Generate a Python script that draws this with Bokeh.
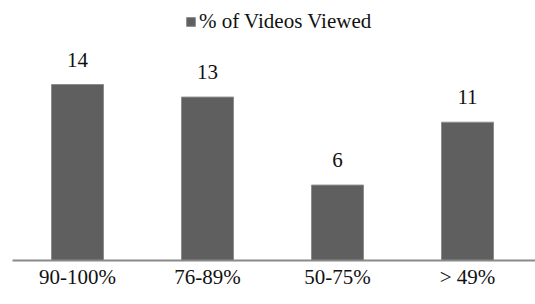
from bokeh.plotting import figure
from bokeh.models import ColumnDataSource, Range1d, FixedTicker, Legend, LegendItem
from bokeh.core.properties import value
from bokeh.embed import file_html
from bokeh.resources import INLINE

categories = ["90-100%", "76-89%", "50-75%", "> 49%"]
views = [14, 13, 6, 11]
series_name = "% of Videos Viewed"

xs = [i + 0.5 for i in range(len(categories))]
src = ColumnDataSource(dict(x=xs, top=views, label=[str(v) for v in views]))

FONT = "'Liberation Serif', serif"
FS = "21px"

p = figure(width=535, height=304, output_backend="svg", toolbar_location=None,
           x_range=Range1d(0, 523 / 130), y_range=Range1d(0, 260 / 12.57),
           y_axis_location=None, min_border_left=12, min_border_right=0,
           min_border_top=0, min_border_bottom=44)
p.outline_line_color = None
p.xgrid.visible = False
p.ygrid.visible = False
p.background_fill_color = "white"

r = p.vbar(x="x", top="top", width=0.4, bottom=0, source=src,
           fill_color="#5f5f5f", line_color="#8c8c8c", line_width=1)

p.text(x="x", y="top", text="label", source=src, text_align="center",
       text_baseline="alphabetic", y_offset=-25, text_font=value(FONT),
       text_font_size=FS, text_color="#111111")

ax = p.xaxis[0]
ax.ticker = FixedTicker(ticks=xs)
ax.major_label_overrides = {x: c for x, c in zip(xs, categories)}
ax.major_tick_line_color = None
ax.minor_tick_line_color = None
ax.axis_line_color = "#898989"
ax.axis_line_width = 2
ax.major_label_standoff = -2
ax.major_label_text_font = FONT
ax.major_label_text_font_size = FS
ax.major_label_text_color = "#111111"

legend = Legend(items=[LegendItem(label=series_name, renderers=[r])],
                location=(173, 226), orientation="horizontal",
                padding=0, margin=0, spacing=0,
                glyph_width=11, glyph_height=11, label_standoff=3,
                label_text_font=FONT, label_text_font_size=FS,
                label_text_color="#111111",
                border_line_color=None, background_fill_alpha=0)
p.add_layout(legend)

open("out.html", "w").write(file_html(p, INLINE))
